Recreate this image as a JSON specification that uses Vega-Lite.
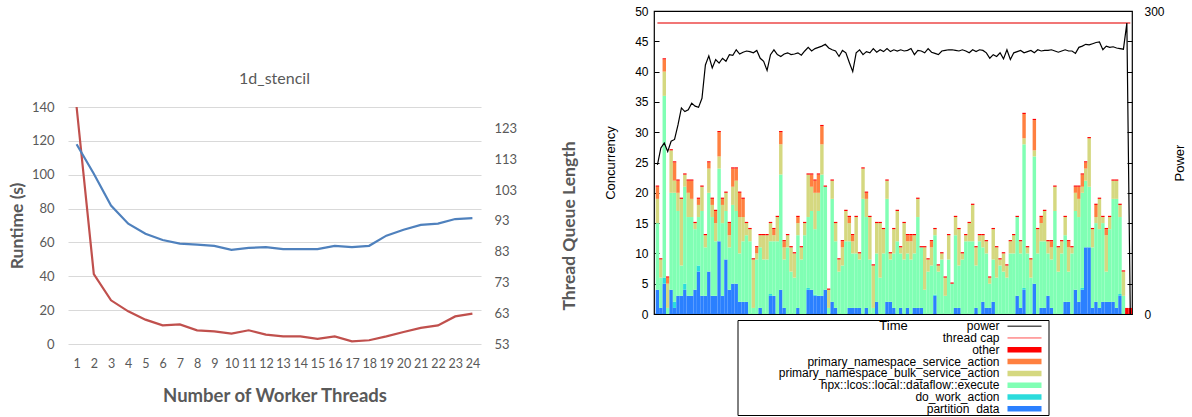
{
"$schema": "https://vega.github.io/schema/vega-lite/v6.json",
"padding": {"left": 8, "top": 4, "right": 0, "bottom": 0},
"bounds": "flush",
"spacing": 173,
"config": {"view": {"stroke": null}, "font": "Liberation Sans"},
"resolve": {"scale": {"color": "independent", "size": "independent"}},
"datasets": {
"threads": [
{"n":1,"rt":149,"q":117.9},{"n":2,"rt":41.3,"q":108.3},{"n":3,"rt":25.8,"q":98.0},{"n":4,"rt":19.3,"q":92.1},
{"n":5,"rt":14.4,"q":88.8},{"n":6,"rt":11.0,"q":86.8},{"n":7,"rt":11.6,"q":85.6},{"n":8,"rt":8.1,"q":85.3},
{"n":9,"rt":7.5,"q":84.9},{"n":10,"rt":6.1,"q":83.6},{"n":11,"rt":8.1,"q":84.2},{"n":12,"rt":5.5,"q":84.5},
{"n":13,"rt":4.5,"q":83.8},{"n":14,"rt":4.5,"q":83.8},{"n":15,"rt":3.0,"q":83.8},{"n":16,"rt":4.5,"q":84.9},
{"n":17,"rt":1.6,"q":84.5},{"n":18,"rt":2.2,"q":84.9},{"n":19,"rt":4.5,"q":88.2},{"n":20,"rt":7.1,"q":90.1},
{"n":21,"rt":9.5,"q":91.7},{"n":22,"rt":11.0,"q":92.1},{"n":23,"rt":16.3,"q":93.6},{"n":24,"rt":17.9,"q":93.9}
],
"bars": [
{"t":1,"b":4,"c":0,"g":11,"k":4,"o":2,"r":0.2,"p":147.6},
{"t":2,"b":1,"c":0,"g":5,"k":3,"o":0,"r":0.2,"p":164.4},
{"t":3,"b":5,"c":1,"g":30,"k":4,"o":2,"r":0.2,"p":169.2},
{"t":4,"b":0,"c":0,"g":1,"k":4,"o":1,"r":0.2,"p":160.8},
{"t":5,"b":4,"c":0,"g":16,"k":7,"o":0,"r":0.2,"p":171},
{"t":6,"b":1,"c":1,"g":18,"k":2,"o":3,"r":0.2,"p":172.8},
{"t":7,"b":3,"c":0,"g":14,"k":3,"o":2,"r":0.2,"p":187.2},
{"t":8,"b":3,"c":0,"g":5,"k":11,"o":0,"r":0.2,"p":204},
{"t":9,"b":4,"c":1,"g":16,"k":2,"o":0,"r":0.2,"p":200.4},
{"t":10,"b":3,"c":0,"g":13,"k":4,"o":2,"r":0.2,"p":202.2},
{"t":11,"b":3,"c":0,"g":13,"k":3,"o":3,"r":0.2,"p":208.8},
{"t":12,"b":4,"c":0,"g":10,"k":1,"o":0,"r":0.2,"p":205.8},
{"t":13,"b":7,"c":1,"g":8,"k":2,"o":1,"r":0.2,"p":204.6},
{"t":14,"b":3,"c":0,"g":14,"k":4,"o":0,"r":0.2,"p":213.6},
{"t":15,"b":3,"c":0,"g":8,"k":2,"o":0,"r":0.2,"p":246.6},
{"t":16,"b":7,"c":0,"g":13,"k":4,"o":1,"r":0.2,"p":255.6},
{"t":17,"b":3,"c":0,"g":13,"k":2,"o":1,"r":0.2,"p":243.6},
{"t":18,"b":3,"c":0,"g":9,"k":3,"o":2,"r":0.2,"p":252},
{"t":19,"b":12,"c":0,"g":12,"k":2,"o":4,"r":0.2,"p":248.4},
{"t":20,"b":3,"c":0,"g":12,"k":3,"o":1,"r":0.2,"p":253.2},
{"t":21,"b":9,"c":0,"g":8,"k":3,"o":0,"r":0.2,"p":250.2},
{"t":22,"b":4,"c":0,"g":7,"k":2,"o":2,"r":0.2,"p":256.8},
{"t":23,"b":5,"c":0,"g":13,"k":3,"o":3,"r":0.2,"p":256.2},
{"t":24,"b":5,"c":0,"g":12,"k":5,"o":2,"r":0.2,"p":261.6},
{"t":25,"b":2,"c":0,"g":8,"k":6,"o":4,"r":0.2,"p":257.4},
{"t":26,"b":2,"c":0,"g":10,"k":4,"o":3,"r":0.2,"p":259.2},
{"t":27,"b":2,"c":0,"g":11,"k":2,"o":0,"r":0.2,"p":260.4},
{"t":28,"b":0,"c":0,"g":12,"k":2,"o":0,"r":0.2,"p":259.8},
{"t":29,"b":0,"c":0,"g":1,"k":8,"o":0,"r":0.2,"p":258.6},
{"t":30,"b":0,"c":0,"g":9,"k":1,"o":1,"r":0.2,"p":261},
{"t":31,"b":1,"c":0,"g":10,"k":2,"o":0,"r":0.2,"p":253.2},
{"t":32,"b":0,"c":0,"g":9,"k":4,"o":0,"r":0.2,"p":250.2},
{"t":33,"b":0,"c":0,"g":9,"k":4,"o":0,"r":0.2,"p":241.2},
{"t":34,"b":3,"c":0.3,"g":8.7,"k":3,"o":0,"r":0.2,"p":256.8},
{"t":35,"b":3,"c":0,"g":9,"k":1,"o":1,"r":0.2,"p":261.6},
{"t":36,"b":0,"c":0,"g":12,"k":4,"o":0,"r":0.2,"p":256.8},
{"t":37,"b":4,"c":0,"g":19,"k":5,"o":2,"r":0.2,"p":255},
{"t":38,"b":1,"c":0,"g":8,"k":2,"o":1,"r":0.2,"p":257.4},
{"t":39,"b":0,"c":0,"g":11,"k":2,"o":0,"r":0.2,"p":258.6},
{"t":40,"b":0,"c":0,"g":7,"k":4,"o":0,"r":0.2,"p":256.8},
{"t":41,"b":0,"c":0,"g":6,"k":4,"o":0,"r":0.2,"p":257.4},
{"t":42,"b":1,"c":0,"g":12,"k":2,"o":1,"r":0.2,"p":258.6},
{"t":43,"b":0,"c":0,"g":9,"k":2,"o":0,"r":0.2,"p":256.2},
{"t":44,"b":0,"c":0,"g":13,"k":2,"o":0,"r":0.2,"p":260.4},
{"t":45,"b":4,"c":0.3,"g":11.7,"k":7,"o":0,"r":0.2,"p":264},
{"t":46,"b":4,"c":0,"g":13,"k":4,"o":2,"r":0.2,"p":260.4},
{"t":47,"b":3,"c":0.2,"g":10.8,"k":6,"o":2,"r":0.2,"p":262.8},
{"t":48,"b":3,"c":0,"g":14,"k":3,"o":3,"r":0.2,"p":264},
{"t":49,"b":3,"c":0,"g":20,"k":5,"o":3,"r":0.2,"p":265.2},
{"t":50,"b":4,"c":0,"g":17,"k":0,"o":0,"r":0.2,"p":267},
{"t":51,"b":0,"c":0,"g":1,"k":3,"o":0,"r":0.2,"p":263.4},
{"t":52,"b":2,"c":0,"g":17,"k":3,"o":0,"r":0.2,"p":261.6},
{"t":53,"b":1,"c":0,"g":11,"k":3,"o":0,"r":0.2,"p":260.4},
{"t":54,"b":0,"c":0,"g":7,"k":2,"o":0,"r":0.2,"p":255},
{"t":55,"b":0,"c":0,"g":8,"k":3,"o":1,"r":0.2,"p":261},
{"t":56,"b":0,"c":0,"g":12,"k":5,"o":0,"r":0.2,"p":258.6},
{"t":57,"b":1,"c":0,"g":11,"k":3,"o":1,"r":0.2,"p":249},
{"t":58,"b":1,"c":0,"g":9,"k":2,"o":1,"r":0.2,"p":240},
{"t":59,"b":1,"c":0,"g":9,"k":6,"o":0,"r":0.2,"p":258.6},
{"t":60,"b":1,"c":0,"g":8,"k":1,"o":0,"r":0.2,"p":261.6},
{"t":61,"b":0,"c":0,"g":19,"k":5,"o":0,"r":0.2,"p":256.8},
{"t":62,"b":1,"c":0,"g":15,"k":3,"o":1,"r":0.2,"p":259.8},
{"t":63,"b":0,"c":0,"g":9,"k":7,"o":0,"r":0.2,"p":258.6},
{"t":64,"b":0,"c":0,"g":1,"k":7,"o":0,"r":0.2,"p":262.8},
{"t":65,"b":2,"c":0,"g":8,"k":5,"o":0,"r":0.2,"p":259.2},
{"t":66,"b":0,"c":0,"g":6,"k":9,"o":0,"r":0.2,"p":261.6},
{"t":67,"b":0,"c":0,"g":10,"k":4,"o":0,"r":0.2,"p":259.8},
{"t":68,"b":2,"c":0,"g":17,"k":3,"o":0,"r":0.2,"p":262.8},
{"t":69,"b":2,"c":0,"g":7,"k":1,"o":0,"r":0.2,"p":259.8},
{"t":70,"b":1,"c":0,"g":9,"k":4,"o":0,"r":0.2,"p":261.6},
{"t":71,"b":0,"c":0,"g":12,"k":5,"o":0,"r":0.2,"p":260.4},
{"t":72,"b":1,"c":0,"g":9,"k":1,"o":0,"r":0.2,"p":261.6},
{"t":73,"b":0,"c":0,"g":9,"k":6,"o":0,"r":0.2,"p":260.4},
{"t":74,"b":1,"c":0,"g":9,"k":2,"o":1,"r":0.2,"p":261},
{"t":75,"b":0,"c":0,"g":9,"k":3,"o":1,"r":0.2,"p":262.8},
{"t":76,"b":1,"c":0,"g":9,"k":3,"o":0,"r":0.2,"p":256.8},
{"t":77,"b":1,"c":0,"g":15,"k":3,"o":0,"r":0.2,"p":261},
{"t":78,"b":1,"c":0,"g":10,"k":0,"o":0,"r":0.2,"p":260.4},
{"t":79,"b":0,"c":0,"g":4,"k":7,"o":0,"r":0.2,"p":258.6},
{"t":80,"b":0,"c":0,"g":7,"k":2,"o":0,"r":0.2,"p":262.8},
{"t":81,"b":0,"c":0,"g":8,"k":3,"o":1,"r":0.2,"p":259.2},
{"t":82,"b":3,"c":0.2,"g":9.8,"k":1,"o":0,"r":0.2,"p":258},
{"t":83,"b":0,"c":0,"g":7,"k":1,"o":0,"r":0.2,"p":256.8},
{"t":84,"b":0,"c":0,"g":9,"k":1,"o":0,"r":0.2,"p":260.4},
{"t":85,"b":0,"c":0,"g":3,"k":3,"o":0,"r":0.2,"p":261},
{"t":86,"b":0,"c":0,"g":9,"k":4,"o":0,"r":0.2,"p":261.6},
{"t":87,"b":0,"c":0,"g":5,"k":0,"o":0,"r":0.2,"p":261.6},
{"t":88,"b":1,"c":0,"g":12,"k":3,"o":0,"r":0.2,"p":261},
{"t":89,"b":1,"c":0,"g":7,"k":6,"o":0,"r":0.2,"p":260.4},
{"t":90,"b":0,"c":0,"g":9,"k":1,"o":0,"r":0.2,"p":261.6},
{"t":91,"b":0,"c":0,"g":12,"k":1,"o":0,"r":0.2,"p":260.4},
{"t":92,"b":0,"c":0,"g":12,"k":3,"o":0,"r":0.2,"p":258.6},
{"t":93,"b":0,"c":0,"g":12,"k":6,"o":0,"r":0.2,"p":261.6},
{"t":94,"b":1,"c":0,"g":7,"k":3,"o":0,"r":0.2,"p":259.8},
{"t":95,"b":0,"c":0,"g":12,"k":1,"o":0,"r":0.2,"p":261.6},
{"t":96,"b":2,"c":0,"g":9,"k":2,"o":0,"r":0.2,"p":261},
{"t":97,"b":1,"c":0,"g":9,"k":2,"o":0,"r":0.2,"p":258.6},
{"t":98,"b":1,"c":0,"g":4,"k":1,"o":0,"r":0.2,"p":253.2},
{"t":99,"b":2,"c":0,"g":7,"k":5,"o":0,"r":0.2,"p":256.8},
{"t":100,"b":0,"c":0,"g":6,"k":5,"o":0,"r":0.2,"p":255},
{"t":101,"b":0,"c":0,"g":8,"k":1,"o":0,"r":0.2,"p":258.6},
{"t":102,"b":0,"c":0,"g":7,"k":3,"o":0,"r":0.2,"p":252.6},
{"t":103,"b":0,"c":0,"g":6,"k":2,"o":0,"r":0.2,"p":261.6},
{"t":104,"b":0,"c":0,"g":10,"k":2,"o":0,"r":0.2,"p":252},
{"t":105,"b":0,"c":0,"g":10,"k":3,"o":0,"r":0.2,"p":258.6},
{"t":106,"b":3,"c":0,"g":13,"k":0,"o":0,"r":0.2,"p":259.8},
{"t":107,"b":1,"c":0,"g":9,"k":2,"o":0,"r":0.2,"p":261},
{"t":108,"b":4,"c":0.3,"g":23.7,"k":1,"o":4,"r":0.2,"p":258.6},
{"t":109,"b":0,"c":0,"g":10,"k":1,"o":0,"r":0.2,"p":259.8},
{"t":110,"b":0,"c":0,"g":6,"k":3,"o":0,"r":0.2,"p":261},
{"t":111,"b":5,"c":0,"g":21,"k":1,"o":5,"r":0.2,"p":258.6},
{"t":112,"b":0,"c":0,"g":10,"k":4,"o":0,"r":0.2,"p":261.6},
{"t":113,"b":1,"c":0,"g":11,"k":3,"o":1,"r":0.2,"p":260.4},
{"t":114,"b":1,"c":0,"g":11,"k":5,"o":0,"r":0.2,"p":261},
{"t":115,"b":3,"c":0,"g":7,"k":2,"o":0,"r":0.2,"p":261},
{"t":116,"b":1,"c":0,"g":8,"k":2,"o":1,"r":0.2,"p":261.6},
{"t":117,"b":0,"c":0,"g":17,"k":4,"o":0,"r":0.2,"p":260.4},
{"t":118,"b":0,"c":0,"g":7,"k":4,"o":0,"r":0.2,"p":259.2},
{"t":119,"b":0,"c":0,"g":10,"k":2,"o":0,"r":0.2,"p":260.4},
{"t":120,"b":2,"c":0,"g":11,"k":3,"o":0,"r":0.2,"p":261.6},
{"t":121,"b":2,"c":0,"g":5,"k":4,"o":1,"r":0.2,"p":260.4},
{"t":122,"b":0,"c":0,"g":10,"k":1,"o":0,"r":0.2,"p":260.4},
{"t":123,"b":4,"c":0,"g":13,"k":3,"o":1,"r":0.2,"p":258},
{"t":124,"b":2,"c":0,"g":14,"k":3,"o":2,"r":0.2,"p":264},
{"t":125,"b":4,"c":0.3,"g":15.7,"k":1,"o":2,"r":0.2,"p":265.2},
{"t":126,"b":11,"c":0,"g":11,"k":2,"o":1,"r":0.2,"p":267},
{"t":127,"b":11,"c":0,"g":10,"k":8,"o":0,"r":0.2,"p":266.4},
{"t":128,"b":1,"c":0,"g":10,"k":3,"o":0,"r":0.2,"p":267.6},
{"t":129,"b":2,"c":0,"g":13,"k":1,"o":2,"r":0.2,"p":268.8},
{"t":130,"b":1,"c":0,"g":13,"k":5,"o":0,"r":0.2,"p":269.4},
{"t":131,"b":2,"c":0,"g":13,"k":1,"o":0,"r":0.2,"p":261.6},
{"t":132,"b":2,"c":0,"g":5,"k":6,"o":1,"r":0.2,"p":265.2},
{"t":133,"b":2,"c":0,"g":12,"k":2,"o":0,"r":0.2,"p":264},
{"t":134,"b":2,"c":0,"g":17,"k":3,"o":0,"r":0.2,"p":264.6},
{"t":135,"b":1,"c":0,"g":18,"k":3,"o":0,"r":0.2,"p":263.4},
{"t":136,"b":3,"c":0.3,"g":12.7,"k":2,"o":0,"r":0.2,"p":262.8},
{"t":137,"b":0,"c":0,"g":3,"k":4,"o":0,"r":0.2,"p":262.2},
{"t":138,"b":0,"c":0,"g":0,"k":0,"o":0,"r":1,"p":288},
{"t":139,"b":0,"c":0,"g":0,"k":0,"o":0,"r":1,"p":0}
],
"legend": [
{"name":"power","kind":"line"},
{"name":"thread cap","kind":"cap"},
{"name":"other","kind":"bar"},
{"name":"primary_namespace_service_action","kind":"bar"},
{"name":"primary_namespace_bulk_service_action","kind":"bar"},
{"name":"hpx::lcos::local::dataflow::execute","kind":"bar"},
{"name":"do_work_action","kind":"bar"},
{"name":"partition_data","kind":"bar"}
]
},
"hconcat": [
{
"width": 413, "height": 333,
"data": {"name": "threads"},
"title": {"text": "1d_stencil", "font": "Lato", "fontSize": 16, "fontWeight": "normal", "color": "#595959", "dy": 80},
"encoding": {
"x": {"field": "n", "type": "ordinal", "scale": {"type": "point", "padding": 0.5},
"axis": {"labelAngle": 0, "title": "Number of Worker Threads", "domain": false, "ticks": false, "labelOverlap": false,
"labelFont": "Lato", "labelFontSize": 12.5, "labelColor": "#595959", "labelPadding": 13,
"titleFont": "Lato", "titleFontSize": 18.5, "titleFontWeight": "bold", "titleColor": "#595959", "titlePadding": 17}}
},
"layer": [
{"mark": {"type": "line", "color": "#c0504d", "strokeWidth": 2.2},
"encoding": {"y": {"field": "rt", "type": "quantitative",
"scale": {"domain": [0, 140], "range": [333, 96], "clamp": true, "nice": false},
"axis": {"values": [0,20,40,60,80,100,120,140], "grid": true, "gridColor": "#d9d9d9", "domain": false, "ticks": false,
"labelFont": "Lato", "labelFontSize": 13, "labelColor": "#595959", "labelPadding": 14,
"title": "Runtime (s)", "titleFont": "Lato", "titleFontSize": 17.5, "titleFontWeight": "bold", "titleColor": "#595959", "titlePadding": 5}}}},
{"mark": {"type": "line", "color": "#4f81bd", "strokeWidth": 2.2},
"encoding": {"y": {"field": "q", "type": "quantitative",
"scale": {"domain": [53, 130], "range": [333, 96], "nice": false, "zero": false},
"axis": {"orient": "right", "values": [53,63,73,83,93,103,113,123], "grid": false, "domain": false, "ticks": false,
"labelFont": "Lato", "labelFontSize": 13, "labelColor": "#595959", "labelPadding": 13,
"title": "Thread Queue Length", "titleAngle": 270, "titleFont": "Lato", "titleFontSize": 17.5, "titleFontWeight": "bold", "titleColor": "#595959", "titlePadding": 62}}}}
],
"resolve": {"scale": {"y": "independent"}}
},
{
"bounds": "flush",
"spacing": 6,
"center": true,
"resolve": {"scale": {"color": "independent", "size": "independent"}},
"vconcat": [
{
"width": 478, "height": 303,
"view": {"stroke": "#000", "strokeWidth": 1.2},
"data": {"name": "bars"},
"encoding": {
"x": {"field": "t", "type": "quantitative", "scale": {"domain": [0, 139.5], "nice": false, "zero": false, "padding": 0},
"axis": {"title": "Time", "labels": false, "ticks": false, "domain": false, "grid": false,
"titleFont": "Liberation Sans", "titleFontSize": 13, "titleFontWeight": "normal", "titleColor": "#000", "titlePadding": 5}}
},
"layer": [
{"transform": [{"fold": ["b","c","g","k","o","r"], "as": ["s","v"]}],
"mark": {"type": "bar", "width": 3.45},
"encoding": {
"y": {"field": "v", "type": "quantitative", "stack": "zero",
"scale": {"domain": [0, 50], "nice": false},
"axis": {"orient": "left", "values": [0,5,10,15,20,25,30,35,40,45,50], "grid": false, "domain": false,
"tickSize": -5, "tickColor": "#000", "labelPadding": 11, "labelFont": "Liberation Sans", "labelFontSize": 12, "labelColor": "#000",
"title": "Concurrency", "titleFont": "Liberation Sans", "titleFontSize": 13, "titleFontWeight": "normal", "titleColor": "#000", "titlePadding": 17}},
"color": {"field": "s", "type": "nominal",
"scale": {"domain": ["b","c","g","k","o","r"], "range": ["#2b80ff","#2bdcdc","#80ffb4","#d5d880","#ff8040","#ff0000"]},
"legend": null},
"order": {"field": "s", "type": "ordinal", "sort": "ascending"}
}},
{"mark": {"type": "line", "color": "#ec4848", "strokeWidth": 1.5},
"encoding": {"y": {"datum": 48, "type": "quantitative", "scale": {"domain": [0, 50], "nice": false}, "axis": null}}},
{"mark": {"type": "line", "color": "#000", "strokeWidth": 1.2},
"encoding": {"y": {"field": "p", "type": "quantitative", "scale": {"domain": [0, 300], "nice": false},
"axis": {"orient": "right", "values": [0,30,60,90,120,150,180,210,240,270,300], "grid": false, "domain": false,
"labelExpr": "datum.value == 0 || datum.value == 300 ? datum.label : ''",
"tickSize": -5, "tickColor": "#000", "labelPadding": 17, "labelFont": "Liberation Sans", "labelFontSize": 12, "labelColor": "#000",
"title": "Power", "titleAngle": 270, "titleFont": "Liberation Sans", "titleFontSize": 13, "titleFontWeight": "normal", "titleColor": "#000", "titlePadding": 22}}}}
],
"resolve": {"scale": {"y": "independent"}}
},
{
"width": 311, "height": 95,
"view": {"stroke": "#000", "strokeWidth": 1},
"data": {"name": "legend"},
"encoding": {
"y": {"field": "name", "type": "nominal", "axis": null,
"scale": {"type": "point", "padding": 0.52, "domain": ["power","thread cap","other","primary_namespace_service_action","primary_namespace_bulk_service_action","hpx::lcos::local::dataflow::execute","do_work_action","partition_data"]}},
"color": {"field": "name", "type": "nominal", "legend": null,
"scale": {"domain": ["power","thread cap","other","primary_namespace_service_action","primary_namespace_bulk_service_action","hpx::lcos::local::dataflow::execute","do_work_action","partition_data"],
"range": ["#555555","#ff5050","#ff0000","#ff8040","#d5d880","#80ffb4","#2bdcdc","#2b80ff"]}}
},
"layer": [
{"mark": {"type": "text", "align": "right", "baseline": "middle", "font": "Liberation Sans", "fontSize": 12},
"encoding": {"x": {"datum": 262, "type": "quantitative", "scale": {"domain": [0, 311], "nice": false, "zero": true}, "axis": null},
"text": {"field": "name"}, "color": {"value": "#000"}}},
{"transform": [{"filter": "datum.kind == 'line'"}],
"mark": {"type": "rule", "strokeWidth": 1.5},
"encoding": {"x": {"datum": 270, "type": "quantitative"}, "x2": {"datum": 304}}},
{"transform": [{"filter": "datum.kind == 'cap'"}],
"mark": {"type": "rule", "strokeWidth": 1},
"encoding": {"x": {"datum": 270, "type": "quantitative"}, "x2": {"datum": 304}}},
{"transform": [{"filter": "datum.kind == 'bar'"}],
"mark": {"type": "rule", "strokeWidth": 5.5},
"encoding": {"x": {"datum": 270, "type": "quantitative"}, "x2": {"datum": 304}}}
]
}
]
}
]
}
